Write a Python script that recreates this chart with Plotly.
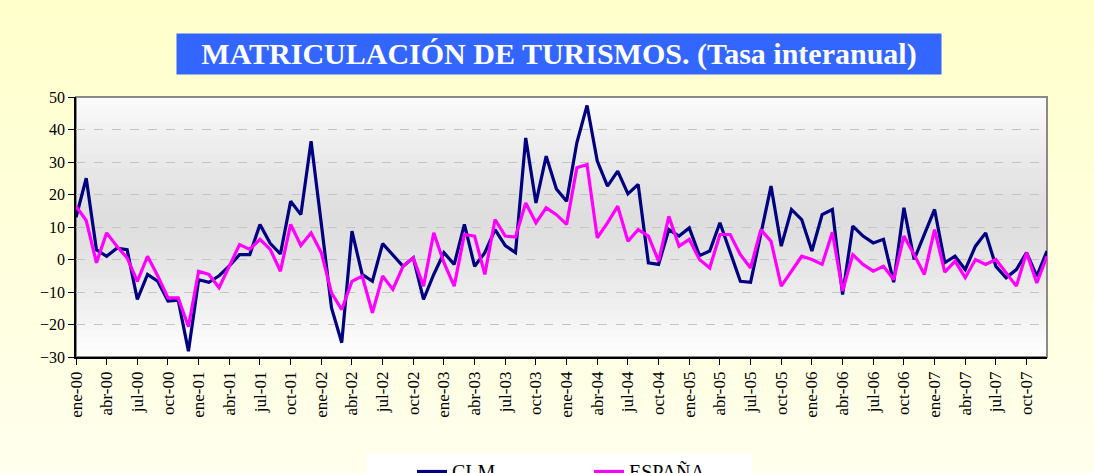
import plotly.graph_objects as go

# ---------------- data ----------------
months = ["ene", "feb", "mar", "abr", "may", "jun", "jul", "ago", "sep", "oct", "nov", "dic"]
years = ["00", "01", "02", "03", "04", "05", "06", "07"]
categories = [f"{m}-{y}" for y in years for m in months]
tick_labels = categories[::3]

clm = [13, 25, 3, 1, 3.5, 3, -12.3, -4.6, -6.7, -12.8, -12.5, -28.2,
       -6.2, -7, -5, -2, 1.5, 1.5, 10.8, 5, 1.7, 17.9, 13.8, 36.4,
       11, -14.9, -25.6, 8.7, -4.6, -6.7, 4.9, 1.5, -2.1, 0.5, -12.3, -4.6,
       2.1, -1.5, 10.8, -2.1, 2.1, 9.2, 4.3, 2.1, 37.4, 17.4, 31.8, 21.7,
       17.9, 35.9, 47.4, 30.3, 22.6, 27.2, 20.2, 23.1, -1.0, -1.5, 9.2, 7.2,
       9.7, 1.2, 2.6, 11.3, 2.3, -6.7, -7.0, 7.5, 22.6, 4.1, 15.4, 12.3,
       2.6, 13.8, 15.4, -10.8, 10.3, 7.2, 5.1, 6.2, -7.0, 15.9, 0, 7.7,
       15.4, -1.0, 1.0, -3.1, 4.1, 8.2, -2.1, -5.6, -3.1, 2.1, -5.1, 2.6]

espana = [16.4, 12, -1, 8.2, 4.1, 0.5, -6.7, 1.0, -5.1, -11.8, -11.8, -20.7,
          -3.6, -4.6, -8.7, -2.1, 4.6, 3.1, 6.2, 3.1, -3.6, 10.8, 4.3, 8.2,
          2.1, -10.3, -15.4, -6.7, -5.1, -16.4, -5.1, -9.2, -2.1, 0.5, -8.2, 8.2,
          -1.0, -8.2, 7.7, 7.2, -4.6, 12.3, 7.2, 6.9, 17.4, 11.3, 15.9, 13.8,
          10.8, 28.2, 29.2, 6.7, 11.3, 16.4, 5.6, 9.2, 7.2, -0.5, 13.3, 4.1,
          6.2, 0, -2.6, 7.7, 7.7, 1.5, -2.6, 9.2, 5.6, -8.2, -3.6, 1.0,
          0, -1.5, 8.4, -9.7, 1.5, -1.5, -3.6, -2.1, -6.2, 7.2, 1.5, -4.6,
          9.2, -3.9, -0.5, -5.6, 0, -1.5, 0, -4.1, -8.2, 2.1, -7.2, 1.0]

title_text = "MATRICULACIÓN DE TURISMOS. (Tasa interanual)"

# ---------------- figure ----------------
W, H = 1094, 473
ML, MR, MT, MB = 76, 47, 97, 116
PW, PH = W - ML - MR, H - MT - MB

def px_x(p):
    return (p - ML) / PW

def px_y(p):
    return (H - MB - p) / PH

SERIF = "Liberation Serif"

fig = go.Figure()
fig.add_trace(go.Scatter(x=categories, y=clm, name="CLM", mode="lines",
                         line=dict(color="#000080", width=3.2)))
fig.add_trace(go.Scatter(x=categories, y=espana, name="ESPAÑA", mode="lines",
                         line=dict(color="#FF00FF", width=3.2)))

shapes = []

def lerp(c1, c2, t):
    return tuple(round(a + (b - a) * t) for a, b in zip(c1, c2))

# paper background gradient (light yellow)
nb = 30
top_c, bot_c = (255, 255, 204), (255, 255, 236)
for k in range(nb):
    t = k / (nb - 1)
    c = lerp(top_c, bot_c, t)
    y0 = px_y(k * H / nb)
    y1 = px_y((k + 1) * H / nb)
    shapes.append(dict(type="rect", xref="paper", yref="paper",
                       x0=px_x(0), x1=px_x(W), y0=y1, y1=y0 + 0.002,
                       fillcolor=f"rgb{c}", line=dict(width=0), layer="below"))

# plot area vertical gradient (white - grey - white)
nb2 = 40
white, grey = (255, 255, 255), (222, 222, 222)
for k in range(nb2):
    yc = (k + 0.5) / nb2
    d = abs(yc - 0.48) / 0.52
    c = lerp(grey, white, min(1, d) ** 1.3)
    shapes.append(dict(type="rect", xref="x domain", yref="y domain",
                       x0=0, x1=1, y0=1 - (k + 1) / nb2, y1=1 - k / nb2 + 0.004,
                       fillcolor=f"rgb{c}", line=dict(width=0), layer="below"))

# plot area border (grey top/right)
shapes.append(dict(type="rect", xref="x domain", yref="y domain", x0=0, x1=1, y0=0, y1=1,
                   line=dict(color="#8a8a8a", width=2), fillcolor="rgba(0,0,0,0)", layer="below"))

# legend box
shapes.append(dict(type="rect", xref="paper", yref="paper",
                   x0=px_x(367), x1=px_x(752), y0=px_y(480), y1=px_y(453),
                   fillcolor="white", line=dict(width=0), layer="below"))

fig.update_layout(
    width=W, height=H,
    margin=dict(l=ML, r=MR, t=MT, b=MB, pad=0, autoexpand=False),
    paper_bgcolor="#FFFFD9",
    plot_bgcolor="white",
    shapes=shapes,
    showlegend=True,
    legend=dict(orientation="h", x=px_x(412), y=px_y(452), xanchor="left", yanchor="top",
                bgcolor="rgba(0,0,0,0)", borderwidth=0, entrywidth=132, entrywidthmode="pixels",
                font=dict(family=SERIF, size=20, color="black"), tracegroupgap=0),
    annotations=[dict(text=title_text, xref="paper", yref="paper",
                      x=px_x(559), y=px_y(54), xanchor="center", yanchor="middle",
                      showarrow=False, bgcolor="#3366FF", width=764, height=40, borderpad=0,
                      font=dict(family=SERIF, size=30, color="white", weight="bold"))],
    xaxis=dict(type="category", categoryorder="array", categoryarray=categories,
               range=[0, len(categories) - 1], tickmode="array",
               tickvals=tick_labels, ticktext=tick_labels, tickangle=-90,
               ticks="outside", ticklen=6, tickcolor="black", tickwidth=1,
               showline=True, linecolor="black", linewidth=1.5, showgrid=False,
               tickfont=dict(family=SERIF, size=17, color="black"), automargin=False),
    yaxis=dict(range=[-30, 50], dtick=10, tick0=0, ticks="outside", ticklen=6,
               tickcolor="black", tickwidth=1, showline=True, linecolor="black", linewidth=1.5,
               showgrid=True, gridcolor="#C4C4C4", gridwidth=1, griddash="dash", zeroline=False,
               tickfont=dict(family=SERIF, size=16, color="black"), automargin=False),
)

fig.write_html("out.html", config={"displayModeBar": False},
               post_script="document.body.style.margin='0px';document.body.style.overflow='hidden';")
